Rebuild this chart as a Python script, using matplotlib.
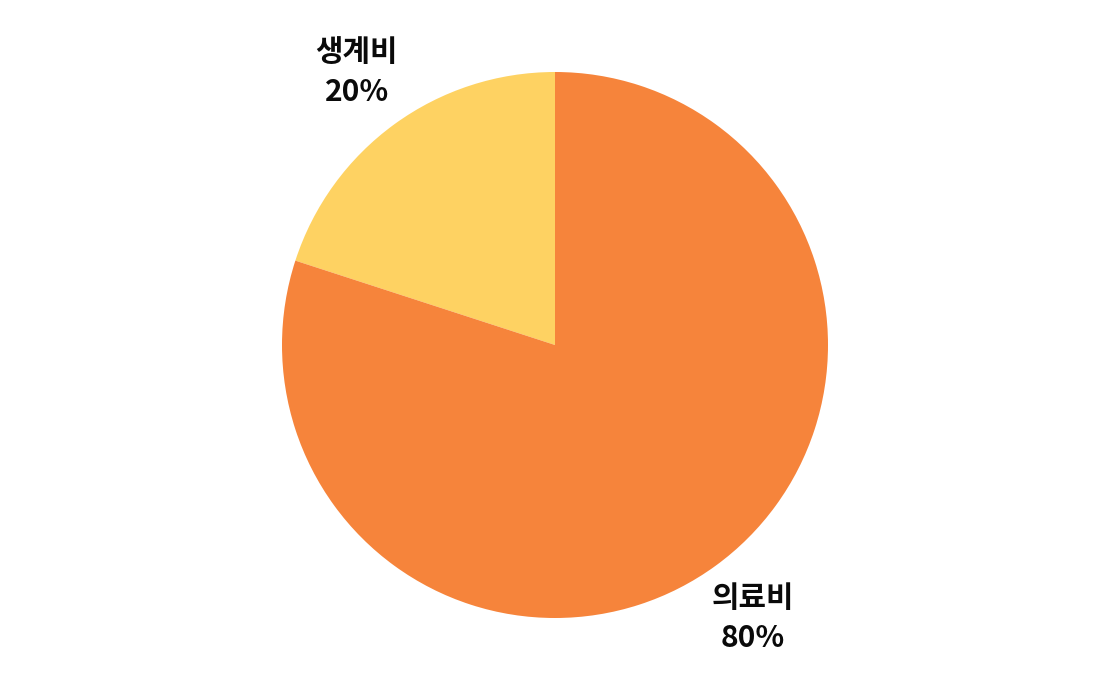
import matplotlib
matplotlib.use("Agg")
import matplotlib.pyplot as plt

categories = ["생계비", "의료비"]
values = [20, 80]
colors = ["#FED262", "#F6843B"]

plt.rcParams['font.family'] = ['Noto Sans CJK KR', 'DejaVu Sans']

fig = plt.figure(figsize=(11.1, 6.91), dpi=100)
ax = fig.add_axes([0, 0, 1, 1])

labels = [f"{c}\n{v}%" for c, v in zip(categories, values)]
wedges, texts = ax.pie(values, colors=colors, startangle=90, counterclock=True,
                       center=(555, 346), radius=273, labels=labels,
                       labeldistance=1.235, frame=True,
                       textprops=dict(fontsize=21.5, fontweight='bold', color='#0a0a0a',
                                      ha='center', va='center', linespacing=1.42))
ax.set_xlim(0, 1110)
ax.set_ylim(0, 691)
ax.set_aspect('equal')
ax.axis('off')
for t in texts:
    t.set_horizontalalignment('center')

fig.savefig("out.png", dpi=100)
